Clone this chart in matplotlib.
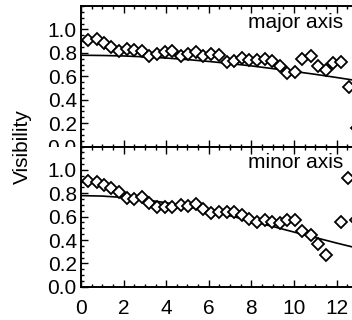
import matplotlib
matplotlib.use("Agg")
import matplotlib.pyplot as plt
from matplotlib.ticker import MultipleLocator
from matplotlib.patches import Rectangle

plt.rcParams['font.family'] = ['Liberation Sans', 'DejaVu Sans']

# baseline positions shared by both panels
baseline = [0.34, 0.74, 1.08, 1.41, 1.77, 2.15, 2.50, 2.86, 3.21, 3.58,
            3.93, 4.29, 4.68, 5.04, 5.38, 5.74, 6.10, 6.46, 6.84, 7.20,
            7.56, 7.90, 8.28, 8.65, 8.98, 9.34, 9.69, 10.05, 10.40, 10.78,
            11.14, 11.49, 11.85, 12.19, 12.58, 12.94]

vis_major = [0.907, 0.920, 0.884, 0.850, 0.815, 0.830, 0.826, 0.820, 0.777, 0.790,
             0.806, 0.815, 0.770, 0.790, 0.806, 0.770, 0.790, 0.783, 0.720, 0.733,
             0.754, 0.740, 0.742, 0.748, 0.730, 0.690, 0.632, 0.637, 0.748, 0.770,
             0.690, 0.655, 0.710, 0.725, 0.510, 0.160]

baseline_minor = [0.34, 0.74, 1.08, 1.42, 1.77, 2.15, 2.50, 2.86, 3.21, 3.58,
                  3.93, 4.29, 4.68, 5.04, 5.38, 5.74, 6.10, 6.46, 6.84, 7.20,
                  7.56, 7.90, 8.28, 8.65, 8.98, 9.34, 9.69, 10.05, 10.40, 10.78,
                  11.14, 11.49, 12.19, 12.55, 12.92]

vis_minor = [0.905, 0.897, 0.871, 0.842, 0.810, 0.759, 0.747, 0.767, 0.719, 0.684,
             0.684, 0.684, 0.696, 0.690, 0.704, 0.667, 0.633, 0.641, 0.641, 0.638,
             0.612, 0.581, 0.552, 0.569, 0.552, 0.547, 0.569, 0.575, 0.480, 0.446,
             0.368, 0.270, 0.552, 0.934, 0.570]

# model curves
fit_x = [0, 1, 2, 3, 4, 5, 6, 7, 8, 9, 10, 11, 12, 13, 14]
fit_major = [0.780, 0.778, 0.774, 0.766, 0.756, 0.743, 0.727, 0.709, 0.689,
             0.666, 0.642, 0.617, 0.590, 0.562, 0.532]
fit_minor = [0.780, 0.776, 0.764, 0.745, 0.719, 0.686, 0.649, 0.607, 0.563,
             0.516, 0.468, 0.421, 0.374, 0.329, 0.287]

fs = 15

fig = plt.figure(figsize=(3.52, 3.20), dpi=100)
left, width = 0.2301, 0.847
ax1 = fig.add_axes([left, 0.542, width, 0.439])
ax2 = fig.add_axes([left, 0.104, width, 0.438])

panels = [(ax1, baseline, vis_major, fit_major, 'major axis'),
          (ax2, baseline_minor, vis_minor, fit_minor, 'minor axis')]

for ax, bx, vis, fit, name in panels:
    ax.plot(fit_x, fit, color='black', lw=1.2, zorder=2)
    ax.plot(bx, vis, linestyle='none', marker='D', ms=6, mfc='white',
            mec='black', mew=1.3, zorder=3)
    ax.set_xlim(0, 14)
    ax.set_ylim(0, 1.2)
    ax.set_yticks([0.0, 0.2, 0.4, 0.6, 0.8, 1.0])
    ax.set_yticklabels(['0.0', '0.2', '0.4', '0.6', '0.8', '1.0'])
    ax.set_xticks([0, 2, 4, 6, 8, 10, 12])
    ax.xaxis.set_minor_locator(MultipleLocator(0.5))
    ax.yaxis.set_minor_locator(MultipleLocator(0.05))
    ax.tick_params(which='both', direction='in', top=True, right=True,
                   width=1.0, labelsize=fs, colors='black')
    ax.tick_params(which='major', length=5)
    ax.tick_params(which='minor', length=2.5)
    ax.tick_params(axis='y', pad=3)
    ax.tick_params(axis='x', pad=9)
    for sp in ax.spines.values():
        sp.set_linewidth(1.4)
    ax.text(12.3, 1.06, name, ha='right', va='center', fontsize=fs)

ax1.tick_params(axis='x', labelbottom=False)

# lower panel hides the bottom of the upper "0.0" label
ax2.add_patch(Rectangle((-0.14, 0.9), 0.135, 0.1, transform=ax2.transAxes,
                        facecolor='white', edgecolor='none', clip_on=False,
                        zorder=5))

fig.text(22 / 352, 1 - 147 / 320, 'Visibility', rotation=90, ha='center',
         va='center', fontsize=fs)

fig.savefig('out.png', dpi=100)
